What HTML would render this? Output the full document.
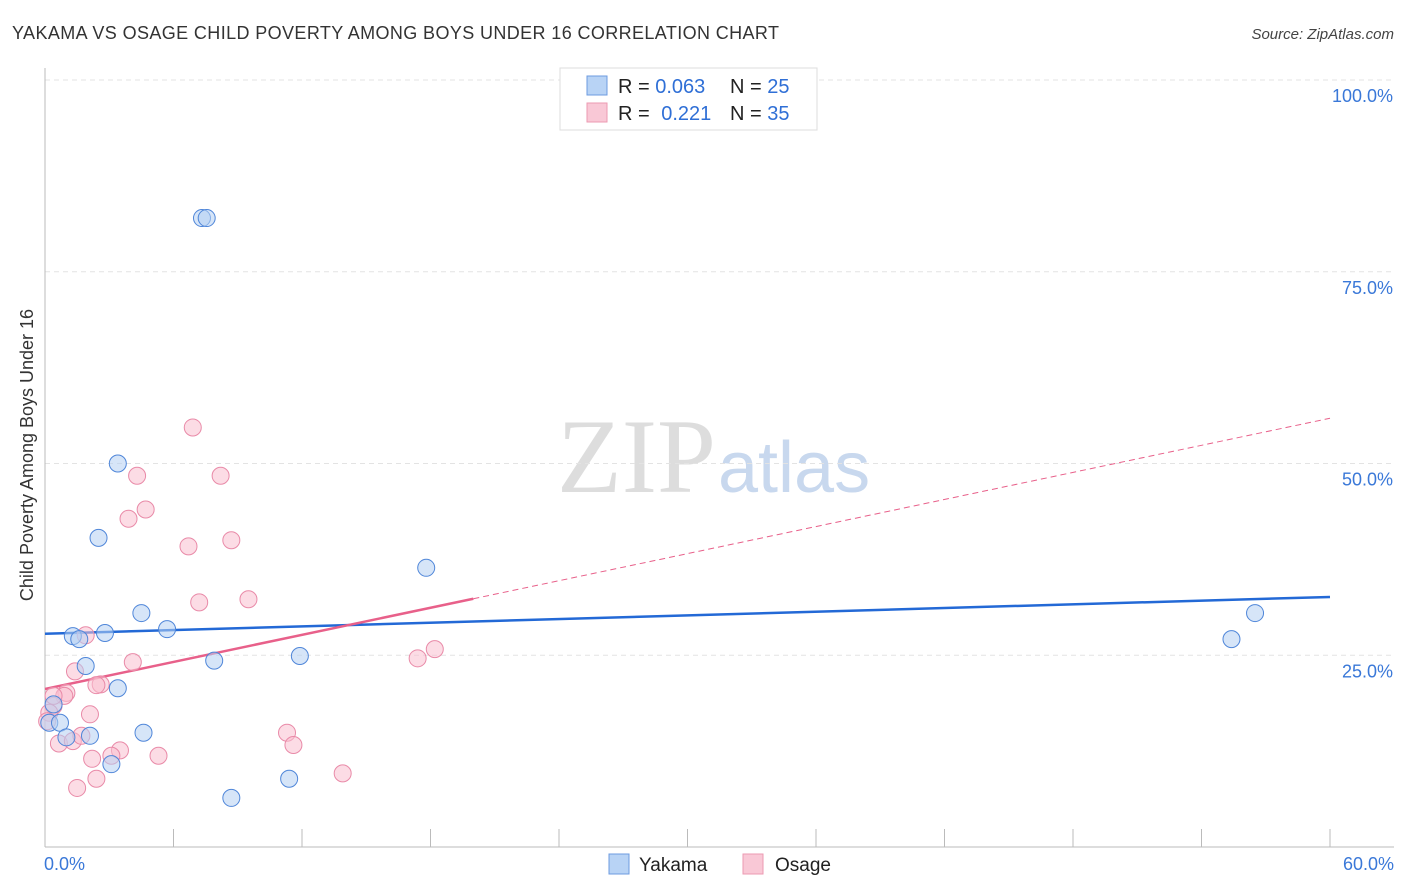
<!DOCTYPE html>
<html><head><meta charset="utf-8">
<style>
body{margin:0;background:#fff;font-family:"Liberation Sans",sans-serif;}
#wrap{position:relative;width:1406px;height:892px;overflow:hidden;}
</style></head>
<body>
<div id="wrap">
<svg id="svg" width="1406" height="892" xmlns="http://www.w3.org/2000/svg">
<text x="12" y="39" font-size="18" fill="#333" textLength="767">YAKAMA VS OSAGE CHILD POVERTY AMONG BOYS UNDER 16 CORRELATION CHART</text>
<text x="1394" y="39" font-size="15" fill="#444" text-anchor="end" font-style="italic">Source: ZipAtlas.com</text>
<text x="716" y="492" font-size="106" fill="#ddd" text-anchor="end" font-family="Liberation Serif">ZIP</text>
<text x="718" y="492" font-size="72" fill="#c8d8ee">atlas</text>
<text transform="translate(33,455) rotate(-90)" font-size="18" fill="#333" text-anchor="middle">Child Poverty Among Boys Under 16</text>
<g id="grid"></g><g id="axes"></g><g id="lines"></g><g id="pts"></g>
<g>
<rect x="560" y="68" width="257" height="62" fill="#fff" stroke="#ddd"/>
<rect x="587" y="76" width="20" height="19" fill="#b8d3f5" stroke="#6d9be0"/>
<rect x="587" y="103" width="20" height="19" fill="#f9c8d6" stroke="#ec9ab2"/>
<text x="618" y="93" font-size="20" fill="#222">R = <tspan fill="#2f6fd6">0.063</tspan></text>
<text x="730" y="93" font-size="20" fill="#222">N = <tspan fill="#2f6fd6">25</tspan></text>
<text x="618" y="120" font-size="20" fill="#222">R = <tspan fill="#2f6fd6" dx="6">0.221</tspan></text>
<text x="730" y="120" font-size="20" fill="#222">N = <tspan fill="#2f6fd6">35</tspan></text>
</g>
<g>
<rect x="609" y="854" width="20" height="20" fill="#b8d3f5" stroke="#6d9be0"/>
<text x="639" y="871" font-size="19" fill="#222">Yakama</text>
<rect x="743" y="854" width="20" height="20" fill="#f9c8d6" stroke="#ec9ab2"/>
<text x="775" y="871" font-size="19" fill="#222">Osage</text>
</g>
</svg>
</div>
<script>
const yTicks=[25,50,75,100];
const yTickLabels=["25.0%","50.0%","75.0%","100.0%"];
const xTickLabels=["0.0%","60.0%"];
const yakamaX=[7.33,7.55,3.4,2.5,17.8,4.5,5.7,2.8,1.3,1.6,56.5,55.4,1.9,7.9,11.9,3.4,0.4,0.2,0.7,1.0,2.1,4.6,3.1,11.4,8.7];
const yakamaY=[82,82,50,40.3,36.4,30.5,28.4,27.9,27.5,27.1,30.5,27.1,23.6,24.3,24.9,20.7,18.6,16.2,16.2,14.3,14.5,14.9,10.8,8.9,6.4];
const osageX=[6.9,4.3,8.2,4.7,3.9,6.7,8.7,7.2,9.5,1.9,4.1,1.4,2.6,2.4,18.2,17.4,1.0,0.9,0.4,0.2,2.1,0.1,0.65,1.3,1.7,3.5,2.2,3.1,5.3,11.3,11.6,13.9,2.4,1.5,0.4];
const osageY=[54.7,48.4,48.4,44,42.8,39.2,40,31.9,32.3,27.6,24.1,22.9,21.2,21.1,25.8,24.6,20.1,19.7,18.4,17.5,17.3,16.4,13.5,13.8,14.5,12.6,11.5,11.9,11.9,14.9,13.3,9.6,8.9,7.7,19.7];
const trendYakama=[27.8,32.6];
const trendOsage=[20.6,55.9];
const osageSolidEnd=20;
const NS="http://www.w3.org/2000/svg";
const X=v=>45+v/60*1285, Y=v=>847-v*7.67;
function mk(t,a,p){const e=document.createElementNS(NS,t);for(const k in a)e.setAttribute(k,a[k]);p.appendChild(e);return e;}
const grid=document.getElementById('grid'),axes=document.getElementById('axes'),lines=document.getElementById('lines'),pts=document.getElementById('pts');
yTicks.forEach((t,i)=>{
 const l=mk('line',{x1:45,x2:1394,y1:Y(t),y2:Y(t),stroke:'#e3e3e3','stroke-dasharray':'5,4'},grid);
 
 
 const tx=mk('text',{x:1393,y:Y(t)+22,'font-size':18,fill:'#3a78d8','text-anchor':'end'},grid);
 tx.textContent=yTickLabels[i];
 
 
});
let ax=mk('line',{x1:45,x2:45,y1:68,y2:847,stroke:'#bbb'},axes);


ax=mk('line',{x1:45,x2:1394,y1:847,y2:847,stroke:'#bbb'},axes);


for(let i=1;i<=10;i++){const tk=mk('line',{x1:45+i*128.5,x2:45+i*128.5,y1:829,y2:847,stroke:'#bbb'},axes);
 
 }
[[0,44,'start'],[1,1394,'end']].forEach(([i,x,a])=>{const t=mk('text',{x:x,y:870,'font-size':18,fill:'#3a78d8','text-anchor':a},axes);t.textContent=xTickLabels[i];
 
 });
function dots(xs,ys,fill,stroke,name){xs.forEach((x,i)=>{const c=mk('circle',{cx:X(x),cy:Y(ys[i]),r:8.5,fill:fill,'fill-opacity':0.55,stroke:stroke,'stroke-width':1},pts);
 
 });}
dots(osageX,osageY,'#f9c0d0','#e98aa8','osage-point');
dots(yakamaX,yakamaY,'#b5d0f3','#4f86d9','yakama-point');
const oy=x=>trendOsage[0]+(trendOsage[1]-trendOsage[0])*x/60;
let ln=mk('line',{x1:X(0),y1:Y(trendYakama[0]),x2:X(60),y2:Y(trendYakama[1]),stroke:'#2369d6','stroke-width':2.5},lines);


ln=mk('line',{x1:X(0),y1:Y(oy(0)),x2:X(osageSolidEnd),y2:Y(oy(osageSolidEnd)),stroke:'#e8608a','stroke-width':2.5},lines);


ln=mk('line',{x1:X(osageSolidEnd),y1:Y(oy(osageSolidEnd)),x2:X(60),y2:Y(oy(60)),stroke:'#e8608a','stroke-width':1,'stroke-dasharray':'6,4'},lines);


</script>
</body></html>
